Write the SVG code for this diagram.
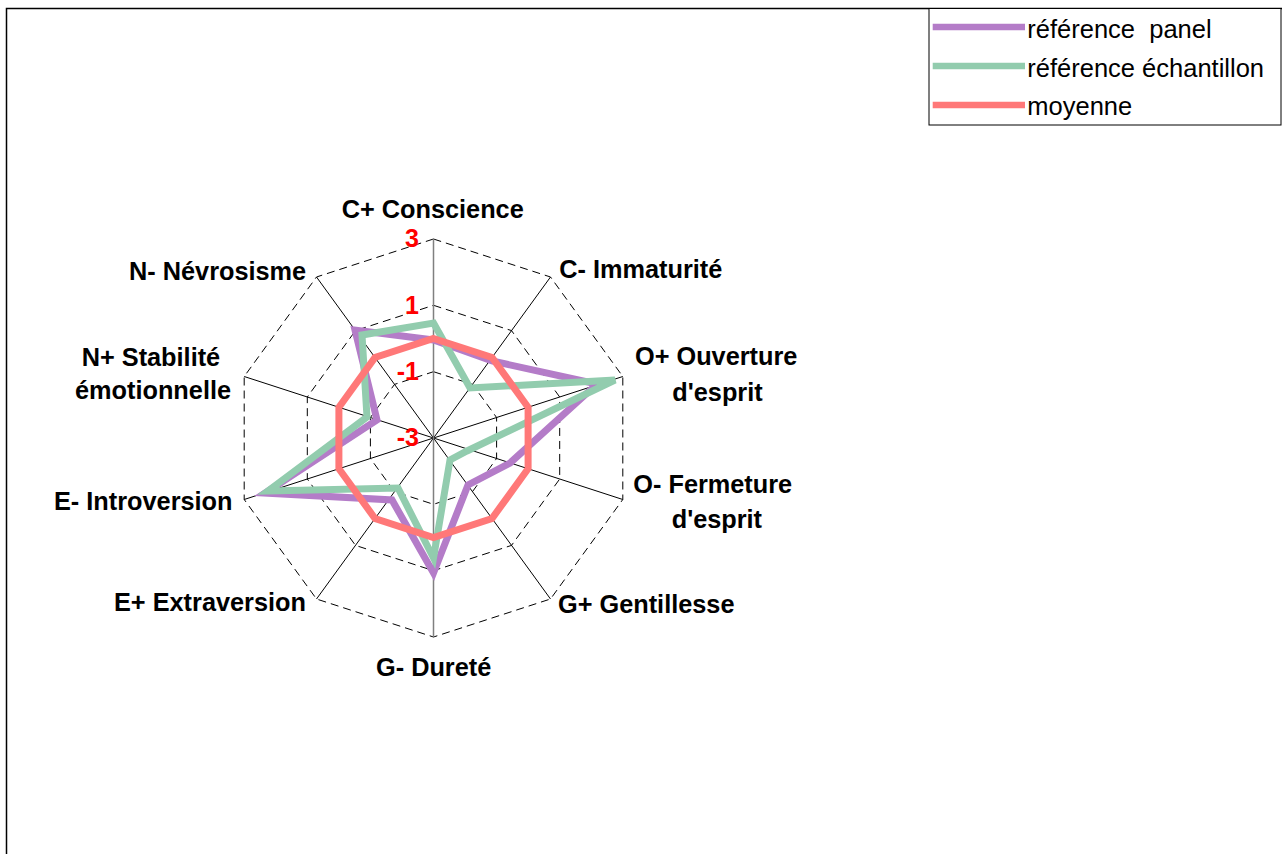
<svg xmlns="http://www.w3.org/2000/svg" width="1282" height="854" viewBox="0 0 1282 854">
<style>
.lbl{font-family:"Liberation Sans",Arial,sans-serif;font-weight:bold;font-size:25.3px;fill:#000}
.tick{font-family:"Liberation Sans",Arial,sans-serif;font-weight:bold;font-size:25px;fill:#FF0000;text-anchor:end}
.leg{font-family:"Liberation Sans",Arial,sans-serif;font-size:25.5px;fill:#000}
.ring{fill:none;stroke:#000;stroke-width:1;stroke-dasharray:8 5}
.spoke{stroke:#000;stroke-width:1}
.series{fill:none;stroke-width:7;stroke-linejoin:miter}
.panel{stroke:#B47CC8}
.ech{stroke:#92CCAE}
.moy{stroke:#FF7878}
</style>
<rect x="0" y="0" width="1282" height="854" fill="#fff"/>
<g id="frame">
<path d="M6.5,854 V8.5 H1282" fill="none" stroke="#000" stroke-width="1.5"/>
</g>
<g id="grid">
<polygon class="ring" points="433.5,239 550.5,277 622.8,376.5 622.8,499.5 550.5,599 433.5,637 316.5,599 244.2,499.5 244.2,376.5 316.5,277"/>
<polygon class="ring" points="433.5,305.3 511.5,330.6 559.7,397 559.7,479 511.5,545.4 433.5,570.7 355.5,545.4 307.3,479 307.3,397 355.5,330.6"/>
<polygon class="ring" points="433.5,371.7 472.5,384.4 496.6,417.5 496.6,458.5 472.5,491.6 433.5,504.3 394.5,491.6 370.4,458.5 370.4,417.5 394.5,384.4"/>
<line class="spoke" x1="433.5" y1="438" x2="550.5" y2="277"/>
<line class="spoke" x1="433.5" y1="438" x2="622.8" y2="376.5"/>
<line class="spoke" x1="433.5" y1="438" x2="622.8" y2="499.5"/>
<line class="spoke" x1="433.5" y1="438" x2="550.5" y2="599"/>
<line class="spoke" x1="433.5" y1="438" x2="316.5" y2="599"/>
<line class="spoke" x1="433.5" y1="438" x2="244.2" y2="499.5"/>
<line class="spoke" x1="433.5" y1="438" x2="244.2" y2="376.5"/>
<line class="spoke" x1="433.5" y1="438" x2="316.5" y2="277"/>
<line x1="433.5" y1="239" x2="433.5" y2="637" stroke="#808080" stroke-width="1.5"/>
</g>
<g id="connectors">
<polygon id="s-panel" class="series panel" points="433.5,340 492,361 597,384 510,463 468,485 433.5,573 392,500 265,493 377,420 355,330"/>
<polygon id="s-ech" class="series ech" points="433.5,323 470,388 615,380 467,451 450,460 433.5,558 398,488 268,491 367,417 362,335"/>
<polygon id="s-moy" class="series moy" points="433.5,338.5 492,357.5 528.1,407.3 528.1,468.7 492,518.5 433.5,537.5 375,518.5 338.9,468.7 338.9,407.3 375,357.5"/>
</g>
<g id="ticks">
<text class="tick" x="419" y="247">3</text>
<text class="tick" x="419" y="313.5">1</text>
<text class="tick" x="419" y="380">-1</text>
<text class="tick" x="419" y="446">-3</text>
</g>
<g id="node-cplus"><text class="lbl" x="341.7" y="217.5">C+ Conscience</text></g>
<g id="node-cminus"><text class="lbl" x="559.3" y="277.5">C- Immaturité</text></g>
<g id="node-oplus">
<text class="lbl" x="635" y="365">O+ Ouverture</text>
<text class="lbl" x="672.3" y="400.5">d'esprit</text>
</g>
<g id="node-ominus">
<text class="lbl" x="633.3" y="492.5">O- Fermeture</text>
<text class="lbl" x="671.7" y="527.5">d'esprit</text>
</g>
<g id="node-gplus"><text class="lbl" x="558" y="613">G+ Gentillesse</text></g>
<g id="node-gminus"><text class="lbl" x="376" y="676">G- Dureté</text></g>
<g id="node-eplus"><text class="lbl" x="114" y="611">E+ Extraversion</text></g>
<g id="node-eminus"><text class="lbl" x="54" y="510">E- Introversion</text></g>
<g id="node-nplus">
<text class="lbl" x="81.7" y="366">N+ Stabilité</text>
<text class="lbl" x="75" y="399">émotionnelle</text>
</g>
<g id="node-nminus"><text class="lbl" x="129" y="280">N- Névrosisme</text></g>
<g id="legend">
<rect x="929" y="8.5" width="352" height="116.5" fill="#fff" stroke="#000" stroke-width="1"/>
<line x1="932.7" y1="27" x2="1025" y2="27" stroke="#B47CC8" stroke-width="6.5"/>
<line x1="932.7" y1="66" x2="1025" y2="66" stroke="#92CCAE" stroke-width="6.5"/>
<line x1="932.7" y1="105" x2="1025" y2="105" stroke="#FF7878" stroke-width="6.5"/>
<text class="leg" x="1027.3" y="37.5" xml:space="preserve">référence  panel</text>
<text class="leg" x="1027.3" y="77">référence échantillon</text>
<text class="leg" x="1027.3" y="115">moyenne</text>
</g>
</svg>
